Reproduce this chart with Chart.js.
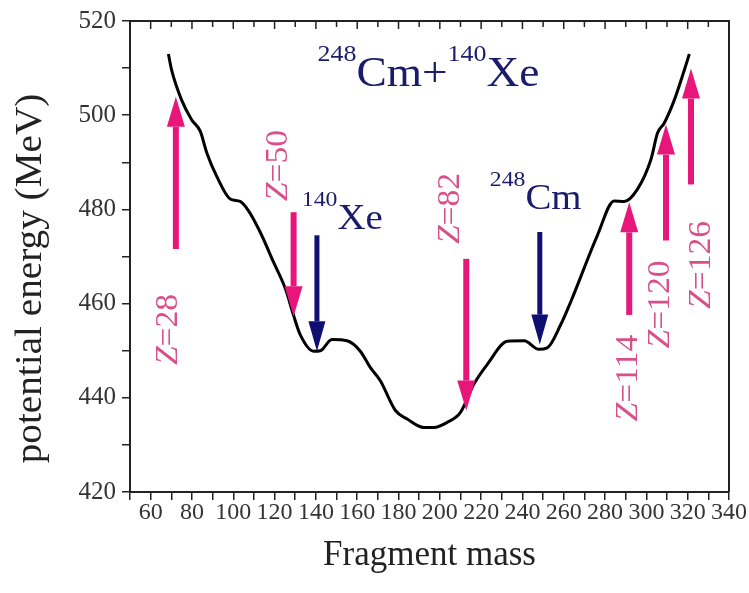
<!DOCTYPE html>
<html>
<head>
<meta charset="utf-8">
<title>248Cm+140Xe potential energy</title>
<script src="https://cdn.jsdelivr.net/npm/chart.js"></script>
<style>
  body { margin: 0; background: #fff; }
</style>
</head>
<body>
<canvas id="pesChart" width="749" height="593"></canvas>
<script>
// potential energy curve
const fragmentMass = [68.6, 70.2, 75, 79.9, 84, 87.2, 92, 98.5, 103.3, 107.4, 113, 119.5, 125.2, 129.2,
  132.4, 138.9, 142.1, 147.8, 155.1, 161.5, 166.4, 171.2, 178.5, 184.2, 192.2, 197.1, 203.6, 210,
  216.5, 223, 232.7, 240.8, 248, 252, 258.5, 263.4, 276.3, 284.4, 289.3, 295.7, 302.2, 305.4,
  308.6, 313.5, 318.3, 320.8];
const potentialEnergy = [513, 509.5, 503.2, 499, 496.6, 492, 487, 482.2, 481.7, 479.7, 475.2, 468.8, 463.2, 457.5,
  453.4, 449.9, 450, 452.4, 452.1, 449.9, 446.4, 443.6, 437.3, 435.5, 433.7, 433.7, 434.8, 436.9,
  442.9, 447.1, 452, 452.1, 450.3, 450.6, 455.5, 460.4, 474.5, 481.8, 481.7, 484.3, 490.6, 496.2,
  498.3, 503.2, 509.5, 513];

// shell closure arrows (magenta)
const shellNames = ['28', '50', '82', '114', '120', '126'];
const shellMass = [72.2, 129.2, 212.8, 291.7, 309.5, 321.6];
const shellFrom = [471.6, 479.4, 469.5, 457.6, 473.4, 485.3];
const shellTo = [503.9, 457.3, 437.3, 481.5, 498, 509.9];
const shellLabelMass = [68.9, 121.8, 205.2, 291.5, 307, 326.9];
const shellLabelEnergy = [454.5, 489.3, 480.2, 444.2, 459.8, 468.2];

// projectile / target arrows (navy)
const nucleusMass = [140.5, 248.4];
const nucleusFrom = [474.5, 475.2];
const nucleusTo = [449.9, 451.3];
const nucleusA = ['140', '248'];
const nucleusSym = ['Xe', 'Cm'];
const nucleusLabelMass = [152.8, 246.4];
const nucleusLabelEnergy = [475.8, 480];

// axis ticks
const xMin = 50, xMax = 340, xStep = 10;
const yMin = 420, yMax = 520, yStep = 10;

const serif = '"Liberation Serif", "Times New Roman", serif';
const pink = '#e8157a';
const pinkText = '#d8508a';
const navy = '#0f0f72';
const navyText = '#1b1b6b';

// draws pieces of text one after another, centred on x, squeezed/stretched by sx
function drawParts(ctx, parts, x, y, sx) {
  let total = 0;
  parts.forEach(p => {
    ctx.font = (p.italic ? 'italic ' : '') + p.size + 'px ' + serif;
    p.w = ctx.measureText(p.text).width;
    total += p.w;
  });
  ctx.save();
  ctx.translate(x, y);
  ctx.scale(sx, 1);
  let cx = -total / 2;
  parts.forEach(p => {
    ctx.font = (p.italic ? 'italic ' : '') + p.size + 'px ' + serif;
    ctx.fillText(p.text, cx, p.dy || 0);
    cx += p.w;
  });
  ctx.restore();
}

function drawArrow(ctx, x, y0, y1, color, stem, headW, headL) {
  const dir = y1 < y0 ? -1 : 1;
  const base = y1 - dir * headL;
  ctx.save();
  ctx.fillStyle = color;
  ctx.fillRect(x - stem / 2, Math.min(y0, base), stem, Math.abs(base - y0));
  ctx.beginPath();
  ctx.moveTo(x - headW / 2, base);
  ctx.lineTo(x + headW / 2, base);
  ctx.lineTo(x, y1);
  ctx.closePath();
  ctx.fill();
  ctx.restore();
}

const annotations = {
  id: 'annotations',
  afterDatasetsDraw(chart) {
    const ctx = chart.ctx;
    const xs = chart.scales.x, ys = chart.scales.y;
    const area = chart.chartArea;

    // frame: top and right edges, inward ticks on top
    ctx.save();
    ctx.strokeStyle = '#222';
    ctx.lineWidth = 2;
    ctx.beginPath();
    ctx.moveTo(area.left, area.top);
    ctx.lineTo(area.right, area.top);
    ctx.lineTo(area.right, area.bottom);
    ctx.stroke();
    ctx.lineWidth = 1.5;
    xs.ticks.forEach(t => {
      const px = xs.getPixelForValue(t.value);
      ctx.beginPath();
      ctx.moveTo(px, area.top);
      ctx.lineTo(px, area.top + (t.value % 20 === 0 ? 8 : 6));
      ctx.stroke();
    });
    ctx.restore();

    // arrows
    shellMass.forEach((m, i) => {
      drawArrow(ctx, xs.getPixelForValue(m), ys.getPixelForValue(shellFrom[i]),
        ys.getPixelForValue(shellTo[i]), pink, 6, 18, 30);
    });
    nucleusMass.forEach((m, i) => {
      drawArrow(ctx, xs.getPixelForValue(m), ys.getPixelForValue(nucleusFrom[i]),
        ys.getPixelForValue(nucleusTo[i]), navy, 5, 17, 30);
    });

    // rotated shell labels
    ctx.save();
    ctx.fillStyle = pinkText;
    ctx.textBaseline = 'middle';
    shellNames.forEach((n, i) => {
      ctx.save();
      ctx.translate(xs.getPixelForValue(shellLabelMass[i]), ys.getPixelForValue(shellLabelEnergy[i]));
      ctx.rotate(-Math.PI / 2);
      drawParts(ctx, [
        { text: 'Z', size: 32, italic: true },
        { text: '=' + n, size: 32 }
      ], 0, 0, 1.05);
      ctx.restore();
    });
    ctx.restore();

    // nucleus labels and reaction title
    ctx.save();
    ctx.fillStyle = navyText;
    ctx.textBaseline = 'alphabetic';
    nucleusA.forEach((a, i) => {
      drawParts(ctx, [
        { text: a, size: 22, dy: -23 },
        { text: nucleusSym[i], size: 36 }
      ], xs.getPixelForValue(nucleusLabelMass[i]), ys.getPixelForValue(nucleusLabelEnergy[i]), 1.08);
    });
    drawParts(ctx, [
      { text: '248', size: 24, dy: -25 },
      { text: 'Cm+', size: 42 },
      { text: '140', size: 24, dy: -25 },
      { text: 'Xe', size: 42 }
    ], xs.getPixelForValue(194.5), ys.getPixelForValue(506.1), 1.08);
    ctx.restore();

    // y axis title
    ctx.save();
    ctx.fillStyle = '#222';
    ctx.textBaseline = 'middle';
    ctx.translate(31, (area.top + area.bottom) / 2 + 22);
    ctx.rotate(-Math.PI / 2);
    drawParts(ctx, [{ text: 'potential energy (MeV)', size: 37 }], 0, 0, 1.06);
    ctx.restore();
  }
};

new Chart(document.getElementById('pesChart'), {
  type: 'line',
  data: {
    datasets: [{
      data: fragmentMass.map((m, i) => ({ x: m, y: potentialEnergy[i] })),
      borderColor: '#000',
      borderWidth: 3,
      pointRadius: 0,
      fill: false,
      cubicInterpolationMode: 'monotone'
    }]
  },
  options: {
    responsive: false,
    animation: false,
    events: [],
    layout: { padding: { top: 17, right: 20, left: 0, bottom: 0 } },
    plugins: { legend: { display: false }, tooltip: { enabled: false } },
    scales: {
      x: {
        type: 'linear',
        min: xMin, max: xMax,
        afterFit: s => { s.height = 101; },
        ticks: {
          stepSize: xStep,
          autoSkip: false,
          maxRotation: 0,
          padding: -2,
          color: '#333',
          font: { family: serif, size: 24 },
          callback: v => (v % 20 === 0 && v > xMin) ? v : ''
        },
        grid: { drawOnChartArea: false, tickLength: 8, color: '#222', lineWidth: 1.5 },
        border: { color: '#222', width: 2 },
        title: {
          display: true,
          text: 'Fragment mass',
          color: '#222',
          font: { family: serif, size: 35 },
          padding: { top: 0, bottom: 16 }
        }
      },
      y: {
        min: yMin, max: yMax,
        afterFit: s => { s.width = 130; },
        ticks: {
          stepSize: yStep,
          padding: 6,
          color: '#333',
          font: { family: serif, size: 25 },
          callback: v => v % 20 === 0 ? v : ''
        },
        grid: { drawOnChartArea: false, tickLength: 8, color: '#222', lineWidth: 1.5 },
        border: { color: '#222', width: 2 }
      }
    }
  },
  plugins: [annotations]
});
</script>
</body>
</html>
